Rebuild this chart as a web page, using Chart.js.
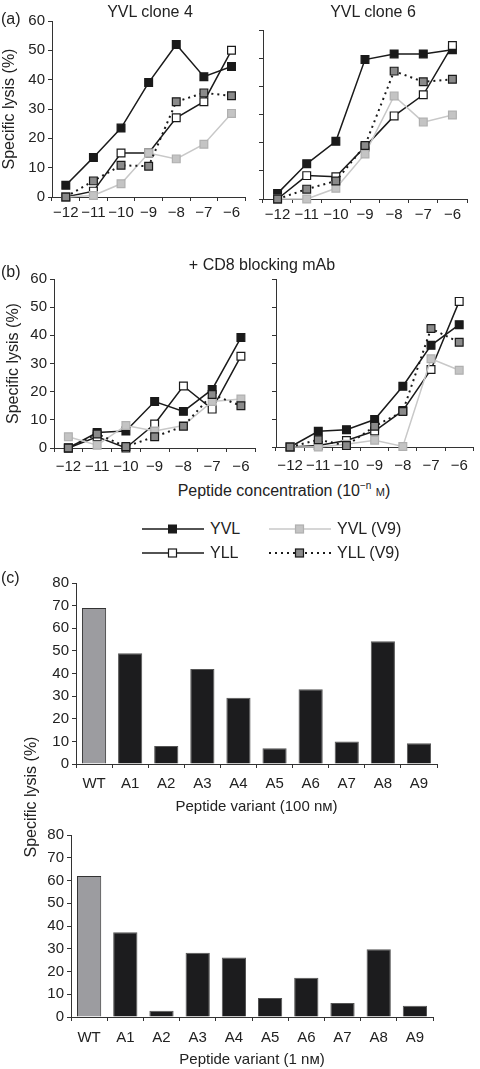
<!DOCTYPE html>
<html>
<head>
<meta charset="utf-8">
<script src="https://cdn.jsdelivr.net/npm/chart.js@4"></script>
<style>
  body { margin: 0; background: #fff; }
  #wrap { position: relative; width: 480px; height: 1069px; overflow: hidden; font-family: 'Liberation Sans', Arial, sans-serif; color: #222; }
  canvas { position: absolute; }
  .txt { position: absolute; white-space: nowrap; transform: translate(-50%, -50%); font-size: 16px; line-height: 1; }
  .lab { position: absolute; white-space: nowrap; font-size: 16px; line-height: 1; transform: translateY(-50%); }
  .leg { position: absolute; display: flex; align-items: center; font-size: 16px; transform: translateY(-50%); }
  .leg svg { margin-right: 6px; }
  .sc { font-variant: small-caps; }
</style>
</head>
<body>
<div id="wrap">
  <canvas id="a4" width="252" height="222" style="left:0;top:0"></canvas>
  <canvas id="a6" width="240" height="222" style="left:240px;top:0"></canvas>
  <canvas id="b4" width="262" height="242" style="left:0;top:230px"></canvas>
  <canvas id="b6" width="240" height="242" style="left:240px;top:230px"></canvas>
  <canvas id="c100" width="480" height="256" style="left:0;top:560px"></canvas>
  <canvas id="c1" width="480" height="254" style="left:0;top:815px"></canvas>

  <div class="lab" style="left:1px;top:19px">(a)</div>
  <div class="txt" style="left:150px;top:12px">YVL clone 4</div>
  <div class="txt" style="left:373px;top:12px">YVL clone 6</div>
  <div class="lab" style="left:1px;top:272px">(b)</div>
  <div class="txt" style="left:262px;top:265px">+ CD8 blocking mAb</div>
  <div class="txt" style="left:284px;top:490px">Peptide concentration (10<sup style="font-size:10px">&minus;n</sup> <span class="sc">m</span>)</div>
  <div class="lab" style="left:1px;top:578px">(c)</div>
  <div class="txt" style="left:31px;top:797px;transform:translate(-50%,-50%) rotate(-90deg)">Specific lysis (%)</div>

  <div class="leg" style="left:142px;top:529px">
    <svg width="62" height="12"><line x1="0" y1="6" x2="62" y2="6" stroke="#1a1a1a" stroke-width="1.5"/><rect x="26.5" y="2" width="8" height="8" fill="#1a1a1a" stroke="#1a1a1a"/></svg>YVL</div>
  <div class="leg" style="left:142px;top:553px">
    <svg width="62" height="12"><line x1="0" y1="6" x2="62" y2="6" stroke="#1a1a1a" stroke-width="1.5"/><rect x="26.5" y="2" width="8" height="8" fill="#fff" stroke="#1a1a1a" stroke-width="1.2"/></svg>YLL</div>
  <div class="leg" style="left:269px;top:529px">
    <svg width="62" height="12"><line x1="0" y1="6" x2="62" y2="6" stroke="#c8c8c8" stroke-width="1.5"/><rect x="26.5" y="2" width="8" height="8" fill="#c4c4c4" stroke="#b0b0b0" stroke-width="1.2"/></svg>YVL (V9)</div>
  <div class="leg" style="left:269px;top:553px">
    <svg width="62" height="12"><line x1="0" y1="6" x2="62" y2="6" stroke="#1a1a1a" stroke-width="2" stroke-dasharray="2 4"/><rect x="26.5" y="2" width="8" height="8" fill="#8a8a8a" stroke="#1a1a1a" stroke-width="1.2"/></svg>YLL (V9)</div>
</div>

<script>
// peptide concentration categories (10^-n M)
const concLabels = ["\u221212", "\u221211", "\u221210", "\u22129", "\u22128", "\u22127", "\u22126"];

// (a) YVL clone 4
const a4YVL = [4, 13.5, 23.5, 39, 52, 41, 44.5];
const a4YLL = [0, 2, 15, 15, 27, 32.5, 50];
const a4YVLV9 = [0, 0.5, 4.5, 15, 13, 18, 28.5];
const a4YLLV9 = [0, 5.5, 10.8, 10.5, 32.5, 35.5, 34.5];

// (a) YVL clone 6
const a6YVL = [2, 12.5, 20.5, 49.5, 51.5, 51.5, 53];
const a6YLL = [0, 8.3, 7.9, 18.5, 29.5, 37, 54.5];
const a6YVLV9 = [0, 0, 3.8, 16, 36.6, 27.3, 29.8];
const a6YLLV9 = [0, 3.5, 6.4, 19, 45.4, 41.6, 42.5];

// (b) + CD8 blocking mAb, clone 4 / clone 6
const b4YVL = [0, 5.5, 6, 16.5, 13, 20.8, 39.2];
const b4YLL = [0, 4, 0, 8.5, 22, 13.8, 32.6];
const b4YVLV9 = [4, 1, 8, 6, 8, 16.5, 17.4];
const b4YLLV9 = [0, 5, 0.5, 4, 7.7, 19, 15];

const b6YVL = [0, 5.6, 6.2, 9.8, 21.7, 36.3, 43.7];
const b6YLL = [0, 0.5, 2.3, 5.7, 13, 27.7, 52];
const b6YVLV9 = [0, 0, 1, 2.4, 0.2, 31.5, 27.4];
const b6YLLV9 = [0, 2.6, 0.5, 7.4, 12.7, 42.3, 37.4];

const lysisTicks = [0, 10, 20, 30, 40, 50, 60];

// (c) peptide variants
const variants = ["WT", "A1", "A2", "A3", "A4", "A5", "A6", "A7", "A8", "A9"];
const lysis100nM = [69, 49, 8, 42, 29.3, 7, 33, 10, 54.3, 9.2];
const lysis1nM = [62, 37.3, 2.8, 28.2, 26.1, 8.3, 17.2, 6.1, 29.8, 5];

Chart.defaults.font.family = "'Liberation Sans', Arial, sans-serif";
Chart.defaults.color = "#222";
Chart.defaults.animation = false;

const axisCol = "#333";

const seriesStyles = {
	YVL: { borderColor: "#1a1a1a", pointBackgroundColor: "#1a1a1a", pointBorderColor: "#1a1a1a", order: 4 },
	YLL: { borderColor: "#1a1a1a", pointBackgroundColor: "#ffffff", pointBorderColor: "#1a1a1a", order: 3 },
	YVLV9: { borderColor: "#c8c8c8", pointBackgroundColor: "#c4c4c4", pointBorderColor: "#b0b0b0", order: 2 },
	YLLV9: { borderColor: "#1a1a1a", pointBackgroundColor: "#8a8a8a", pointBorderColor: "#1a1a1a", borderDash: [2, 4], borderWidth: 2, order: 1 },
};

const makeSet = (label, data) => ({
	label: label,
	data: data,
	borderWidth: 1.5,
	pointStyle: "rect",
	pointRadius: 5.5,
	pointBorderWidth: 1.2,
	tension: 0,
	clip: false,
	...seriesStyles[label],
});

const lineChart = (id, sets, lay) => {
	new Chart(document.getElementById(id), {
		type: "line",
		data: {
			labels: concLabels,
			datasets: [
				makeSet("YVL", sets[0]),
				makeSet("YLL", sets[1]),
				makeSet("YVLV9", sets[2]),
				makeSet("YLLV9", sets[3]),
			],
		},
		options: {
			responsive: false,
			layout: { padding: { top: lay.top, left: 0, right: lay.right, bottom: 0 } },
			plugins: { legend: { display: false }, tooltip: { enabled: false } },
			scales: {
				x: {
					type: "category",
					offset: true,
					grid: { offset: true, drawOnChartArea: false, tickLength: 4, color: axisCol },
					border: { color: axisCol, width: 1 },
					ticks: { font: { size: 15 }, padding: lay.xPad, maxRotation: 0, autoSkip: false },
					afterFit: (s) => { s.height = lay.xH; },
				},
				y: {
					min: 0,
					max: 60,
					afterBuildTicks: (s) => { s.ticks = lysisTicks.map((v) => ({ value: v })); },
					grid: { drawOnChartArea: false, tickLength: 4, color: axisCol },
					border: { color: axisCol, width: 1 },
					ticks: { display: lay.yLabels, font: { size: 15 }, padding: 3 },
					title: {
						display: lay.yLabels,
						text: "Specific lysis (%)",
						font: { size: 16 },
						padding: { top: lay.titlePad, bottom: 0 },
					},
					afterFit: (s) => { s.width = lay.yW; },
				},
			},
		},
	});
};

lineChart("a4", [a4YVL, a4YLL, a4YVLV9, a4YLLV9], { top: 21, right: 2, xH: 25, xPad: 3, yW: 52, yLabels: true, titlePad: 0 });
lineChart("a6", [a6YVL, a6YLL, a6YVLV9, a6YLLV9], { top: 30, right: 13, xH: 23, xPad: 3, yW: 23, yLabels: false, titlePad: 0 });
lineChart("b4", [b4YVL, b4YLL, b4YVLV9, b4YLLV9], { top: 49, right: 1, xH: 24, xPad: 6, yW: 54, yLabels: true, titlePad: 4 });
lineChart("b6", [b6YVL, b6YLL, b6YVLV9, b6YLLV9], { top: 49, right: 2, xH: 25, xPad: 6, yW: 36, yLabels: false, titlePad: 0 });

const barChart = (id, values, xTitle, lay) => {
	new Chart(document.getElementById(id), {
		type: "bar",
		data: {
			labels: variants,
			datasets: [
				{
					data: values,
					backgroundColor: variants.map((v) => (v === "WT" ? "#9c9ca0" : "#1c1c1e")),
					borderColor: variants.map((v) => (v === "WT" ? "#333" : "#555")),
					borderWidth: 1,
					categoryPercentage: 1,
					barPercentage: 0.67,
				},
			],
		},
		options: {
			responsive: false,
			layout: { padding: { top: lay.top, left: 0, right: lay.right, bottom: 0 } },
			plugins: { legend: { display: false }, tooltip: { enabled: false } },
			scales: {
				x: {
					grid: { offset: true, drawOnChartArea: false, tickLength: 4, color: axisCol },
					border: { color: axisCol, width: 1 },
					ticks: { font: { size: 15 }, padding: lay.xPad },
					title: { display: true, text: xTitle, font: { size: 15 }, padding: { top: 0, bottom: 0 } },
					afterFit: (s) => { s.height = lay.xH; },
				},
				y: {
					min: 0,
					max: 80,
					ticks: { stepSize: 10, font: { size: 15 }, padding: 3 },
					grid: { drawOnChartArea: false, tickLength: 4, color: axisCol },
					border: { color: axisCol, width: 1 },
					afterFit: (s) => { s.width = lay.yW; },
				},
			},
		},
	});
};

barChart("c100", lysis100nM, "Peptide variant (100 n\u1D0D)", { top: 23, right: 43, xH: 52, xPad: 7, yW: 76 });
barChart("c1", lysis1nM, "Peptide variant (1 n\u1D0D)", { top: 20, right: 47, xH: 52, xPad: 8, yW: 71 });
</script>
</body>
</html>
